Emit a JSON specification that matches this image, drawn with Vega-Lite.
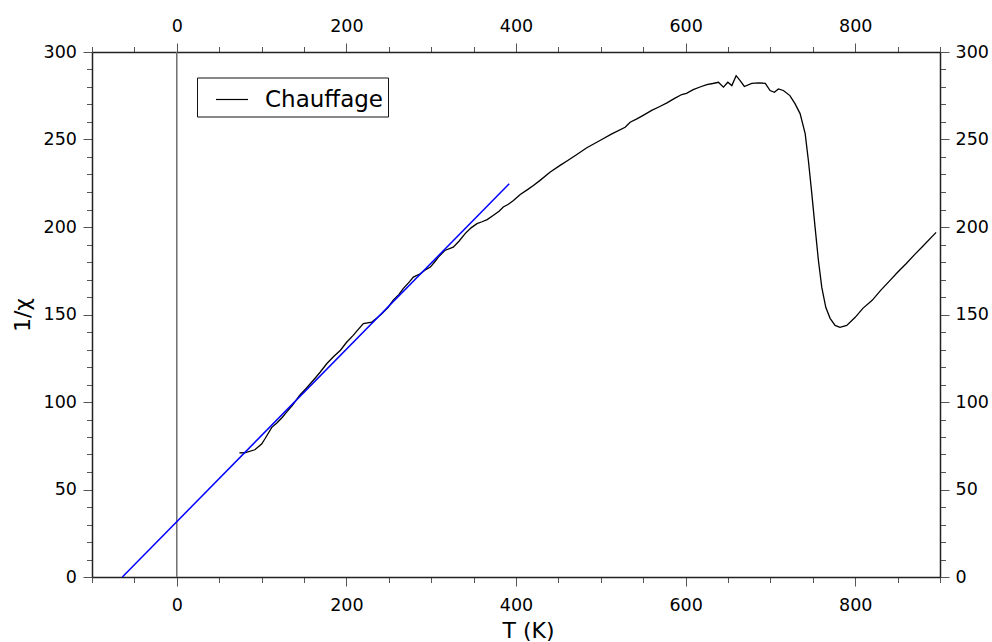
{
  "$schema": "https://vega.github.io/schema/vega-lite/v6.json",
  "width": 848,
  "height": 525,
  "autosize": {"type": "none"},
  "padding": {"left": 92, "top": 52, "right": 52, "bottom": 65},
  "background": "white",
  "config": {
    "font": "DejaVu Sans",
    "view": {"stroke": null},
    "axis": {
      "grid": false,
      "labelFont": "DejaVu Sans",
      "labelFontSize": 17.5,
      "labelColor": "black",
      "titleFont": "DejaVu Sans",
      "titleFontSize": 22,
      "titleFontWeight": "normal",
      "titleColor": "black",
      "domainColor": "#222",
      "domainWidth": 1.5,
      "tickColor": "#555",
      "tickWidth": 1,
      "labelOverlap": false,
      "labelFlush": false
    }
  },
  "datasets": {
    "curve": [
      {"T": 73.8, "v": 70.9}, {"T": 80, "v": 71}, {"T": 92, "v": 72.7}, {"T": 100, "v": 76}, {"T": 104, "v": 79},
      {"T": 112, "v": 85.5}, {"T": 118, "v": 88}, {"T": 124, "v": 91}, {"T": 130, "v": 94.5}, {"T": 137, "v": 98.5},
      {"T": 145, "v": 103.9}, {"T": 153, "v": 108}, {"T": 161, "v": 112.4}, {"T": 169, "v": 117}, {"T": 177, "v": 122},
      {"T": 185, "v": 126}, {"T": 193, "v": 129.6}, {"T": 200, "v": 134}, {"T": 208, "v": 138.1}, {"T": 214, "v": 141.5},
      {"T": 220, "v": 144.8}, {"T": 230, "v": 145.7}, {"T": 236, "v": 148}, {"T": 242, "v": 150.5}, {"T": 249, "v": 154},
      {"T": 255, "v": 158.1}, {"T": 262, "v": 161.5}, {"T": 267, "v": 164.8}, {"T": 274, "v": 168.5}, {"T": 279, "v": 171.4},
      {"T": 287, "v": 173.3}, {"T": 293, "v": 175.5}, {"T": 299, "v": 177.1}, {"T": 304, "v": 180}, {"T": 308.5, "v": 182.8},
      {"T": 316, "v": 186.6}, {"T": 326, "v": 188.5}, {"T": 333, "v": 192}, {"T": 340, "v": 196.2}, {"T": 347, "v": 199.5},
      {"T": 354, "v": 201.9}, {"T": 360, "v": 203}, {"T": 366, "v": 204.2}, {"T": 373, "v": 206.6}, {"T": 380, "v": 209},
      {"T": 385, "v": 211.4}, {"T": 391, "v": 213}, {"T": 397, "v": 215.2}, {"T": 405, "v": 218.6}, {"T": 414, "v": 221.5},
      {"T": 420.5, "v": 223.7}, {"T": 428, "v": 226.5}, {"T": 440, "v": 231.3}, {"T": 452, "v": 235.2}, {"T": 461, "v": 238},
      {"T": 470, "v": 240.9}, {"T": 483.5, "v": 245.3}, {"T": 499, "v": 249.4}, {"T": 513, "v": 253.2}, {"T": 528.7, "v": 257},
      {"T": 534.6, "v": 259.9}, {"T": 542.5, "v": 261.8}, {"T": 550, "v": 263.8}, {"T": 560, "v": 266.6}, {"T": 569, "v": 268.7},
      {"T": 578, "v": 270.9}, {"T": 587, "v": 273.5}, {"T": 595.5, "v": 275.7}, {"T": 601, "v": 276.4}, {"T": 609, "v": 278.5},
      {"T": 617, "v": 280}, {"T": 625, "v": 281.4}, {"T": 632, "v": 282}, {"T": 638.7, "v": 282.7}, {"T": 644.6, "v": 279.9},
      {"T": 649.8, "v": 282.7}, {"T": 654.5, "v": 280.8}, {"T": 659.6, "v": 286.5}, {"T": 664.3, "v": 283.7}, {"T": 669.3, "v": 280.3},
      {"T": 678, "v": 282.1}, {"T": 686, "v": 282.3}, {"T": 694, "v": 282.1}, {"T": 699.6, "v": 278}, {"T": 704.7, "v": 277},
      {"T": 709.4, "v": 278.9}, {"T": 715.3, "v": 278}, {"T": 723, "v": 275.1}, {"T": 729, "v": 270.5}, {"T": 735, "v": 264.8},
      {"T": 741, "v": 253.4}, {"T": 744.8, "v": 238}, {"T": 748.8, "v": 219.2}, {"T": 752.7, "v": 199.8}, {"T": 756.6, "v": 181},
      {"T": 760.6, "v": 165.5}, {"T": 765.3, "v": 154.1}, {"T": 770.4, "v": 147.8}, {"T": 776.3, "v": 143.8}, {"T": 782, "v": 142.7},
      {"T": 790, "v": 143.8}, {"T": 800, "v": 148.4}, {"T": 809, "v": 153.5}, {"T": 820, "v": 158.1}, {"T": 830, "v": 163.8},
      {"T": 840, "v": 168.9}, {"T": 850, "v": 174.1}, {"T": 860, "v": 179}, {"T": 870, "v": 184.2}, {"T": 880, "v": 189.1},
      {"T": 895.4, "v": 196.9}
    ],
    "fit": [{"T": -64.2, "v": 0}, {"T": 392, "v": 224.7}],
    "zero": [{"T": 0}]
  },
  "resolve": {"axis": {"x": "independent", "y": "independent"}},
  "layer": [
    {
      "data": {"name": "zero"},
      "mark": {"type": "rule", "color": "#6e6e6e", "strokeWidth": 1.5},
      "encoding": {
        "x": {"field": "T", "type": "quantitative", "scale": {"domain": [-100, 900], "nice": false, "zero": false}, "axis": null}
      }
    },
    {
      "data": {"name": "curve"},
      "mark": {"type": "line", "strokeWidth": 1.3},
      "encoding": {
        "x": {
          "field": "T", "type": "quantitative",
          "scale": {"domain": [-100, 900], "nice": false, "zero": false},
          "axis": {
            "orient": "bottom",
            "values": [-100, -50, 0, 50, 100, 150, 200, 250, 300, 350, 400, 450, 500, 550, 600, 650, 700, 750, 800, 850, 900],
            "tickSize": {"condition": {"test": "datum.value % 200 === 0", "value": 9}, "value": 5.5},
            "labelExpr": "datum.value % 200 === 0 ? datum.label : ''",
            "labelPadding": 10,
            "title": "T (K)",
            "titleX": 436,
            "titleY": 43,
            "titleBaseline": "top",
            "titleAlign": "center"
          }
        },
        "y": {
          "field": "v", "type": "quantitative",
          "scale": {"domain": [0, 300], "nice": false, "zero": false},
          "axis": {
            "orient": "left",
            "values": [0, 10, 20, 30, 40, 50, 60, 70, 80, 90, 100, 110, 120, 130, 140, 150, 160, 170, 180, 190, 200, 210, 220, 230, 240, 250, 260, 270, 280, 290, 300],
            "tickSize": {"condition": {"test": "datum.value % 50 === 0", "value": 9}, "value": 5.5},
            "labelExpr": "datum.value % 50 === 0 ? datum.label : ''",
            "labelPadding": 6.5,
            "title": "1/χ",
            "titleX": -58,
            "titleBaseline": "bottom"
          }
        },
        "color": {
          "datum": "Chauffage",
          "scale": {"range": ["black"]},
          "legend": {
            "orient": "none",
            "legendX": 105,
            "legendY": 25.5,
            "title": null,
            "strokeColor": "#111",
            "fillColor": "white",
            "padding": 5,
            "symbolType": "stroke",
            "symbolSize": 1024,
            "symbolStrokeWidth": 1.2,
            "symbolStrokeColor": "#555",
            "symbolOffset": 13,
            "labelOffset": 16,
            "labelFont": "DejaVu Sans",
            "labelFontSize": 23,
            "labelColor": "black",
            "encode": {"symbols": {"update": {"stroke": {"value": "#555"}}}}
          }
        }
      }
    },
    {
      "data": {"name": "fit"},
      "mark": {"type": "line", "color": "#0000ff", "strokeWidth": 1.5},
      "encoding": {
        "x": {
          "field": "T", "type": "quantitative",
          "scale": {"domain": [-100, 900], "nice": false, "zero": false},
          "axis": {
            "orient": "top",
            "values": [-100, -50, 0, 50, 100, 150, 200, 250, 300, 350, 400, 450, 500, 550, 600, 650, 700, 750, 800, 850, 900],
            "tickSize": {"condition": {"test": "datum.value % 200 === 0", "value": 9}, "value": 5.5},
            "labelExpr": "datum.value % 200 === 0 ? datum.label : ''",
            "labelPadding": 8,
            "title": null
          }
        },
        "y": {
          "field": "v", "type": "quantitative",
          "scale": {"domain": [0, 300], "nice": false, "zero": false},
          "axis": {
            "orient": "right",
            "values": [0, 10, 20, 30, 40, 50, 60, 70, 80, 90, 100, 110, 120, 130, 140, 150, 160, 170, 180, 190, 200, 210, 220, 230, 240, 250, 260, 270, 280, 290, 300],
            "tickSize": {"condition": {"test": "datum.value % 50 === 0", "value": 9}, "value": 5.5},
            "labelExpr": "datum.value % 50 === 0 ? datum.label : ''",
            "labelPadding": 6,
            "title": null
          }
        }
      }
    }
  ]
}
